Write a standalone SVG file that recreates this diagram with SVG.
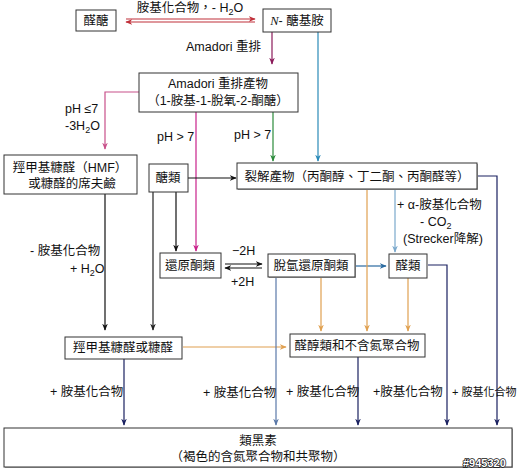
<svg xmlns="http://www.w3.org/2000/svg" width="520" height="470" viewBox="0 0 520 470">
<style>
text{font-family:"Liberation Sans","Noto Sans CJK TC",sans-serif;font-size:12.5px;fill:#111;}
.c{text-anchor:middle;}
.box{fill:#fff;stroke:#333;stroke-width:1;}
.sh{fill:#aaa;}
.ln{fill:none;stroke-width:1.2;}
</style>
<defs>
<marker id="ar" viewBox="0 0 10 10" refX="9" refY="5" markerWidth="7" markerHeight="7" orient="auto" markerUnits="userSpaceOnUse"><path d="M0,1 L10,5 L0,9 L3,5z" fill="context-stroke"/></marker>
</defs>
<rect width="520" height="470" fill="#fff"/>
<g id="connectors">
<path class="ln" d="M126,19 H255" stroke="#c0303a" marker-end="url(#ar)"/>
<path class="ln" d="M255,22 H126" stroke="#c0303a" marker-end="url(#ar)"/>
<path class="ln" d="M272,32 V64" stroke="#8b1a5a" marker-end="url(#ar)"/>
<path class="ln" d="M318,32 V161" stroke="#2a8ab8" marker-end="url(#ar)"/>
<path class="ln" d="M139,92 H105 V149" stroke="#c8508a" marker-end="url(#ar)"/>
<path class="ln" d="M196,112 V251" stroke="#c8208a" marker-end="url(#ar)"/>
<path class="ln" d="M273,112 V161" stroke="#2a8a3a" marker-end="url(#ar)"/>
<path class="ln" d="M188,178 H236" stroke="#111" marker-end="url(#ar)"/>
<path class="ln" d="M176,192 V251" stroke="#111" marker-end="url(#ar)"/>
<path class="ln" d="M153,192 V330" stroke="#222" marker-end="url(#ar)"/>
<path class="ln" d="M105,194 V330" stroke="#111" marker-end="url(#ar)"/>
<path class="ln" d="M225,264 H262" stroke="#111" marker-end="url(#ar)"/>
<path class="ln" d="M262,268 H225" stroke="#111" marker-end="url(#ar)"/>
<path class="ln" d="M356,266 H386" stroke="#2a6aa0" marker-end="url(#ar)"/>
<path class="ln" d="M395,189 V252" stroke="#7aa8cc" stroke-width="1.6" marker-end="url(#ar)"/>
<path class="ln" d="M367,189 V331" stroke="#e0a050" marker-end="url(#ar)"/>
<path class="ln" d="M321,277 V331" stroke="#e0a050" marker-end="url(#ar)"/>
<path class="ln" d="M408,278 V331" stroke="#e0a050" marker-end="url(#ar)"/>
<path class="ln" d="M183,347 H286" stroke="#e0a050" marker-end="url(#ar)"/>
<path class="ln" d="M124,359 V425" stroke="#1a2060" marker-end="url(#ar)"/>
<path class="ln" d="M276,277 V425" stroke="#5a78a8" marker-end="url(#ar)"/>
<path class="ln" d="M358,357 V425" stroke="#1a2060" marker-end="url(#ar)"/>
<path class="ln" d="M428,265 H447 V425" stroke="#1a2060" marker-end="url(#ar)"/>
<path class="ln" d="M477,176 H497 V425" stroke="#1a2060" marker-end="url(#ar)"/>
</g>
<g id="labels">
<text class="c" x="190" y="12">胺基化合物，- H<tspan font-size="9" dy="3">2</tspan><tspan dy="-3">O</tspan></text>
<text x="186" y="51">Amadori 重排</text>
<text x="65" y="113">pH ≤7</text>
<text x="65" y="130">-3H<tspan font-size="9" dy="3">2</tspan><tspan dy="-3">O</tspan></text>
<text x="157" y="141">pH &gt; 7</text>
<text x="234" y="139">pH &gt; 7</text>
<text x="30" y="255">- 胺基化合物</text>
<text x="70" y="273">+ H<tspan font-size="9" dy="3">2</tspan><tspan dy="-3">O</tspan></text>
<text x="232" y="255">−2H</text>
<text x="231" y="286">+2H</text>
<text x="397" y="209">+ α-胺基化合物</text>
<text x="420" y="226">- CO<tspan font-size="9" dy="3">2</tspan></text>
<text x="403" y="243">(Strecker降解)</text>
<text x="50" y="396">+ 胺基化合物</text>
<text x="203" y="397">+ 胺基化合物</text>
<text x="286" y="396">+ 胺基化合物</text>
<text x="373" y="396">+胺基化合物</text>
<text x="452" y="396" style="font-size:11px">+ 胺基化合物</text>
</g>
<g id="n-aldose">
<rect class="box" x="76" y="10" width="40" height="21"/>
<text class="c" x="96" y="25">醛醣</text>
</g>
<g id="n-glycosylamine">
<rect class="box" x="263" y="9" width="68" height="23"/>
<text class="c" x="297" y="25"><tspan font-family="Liberation Serif" font-style="italic">N</tspan>- 醣基胺</text>
</g>
<g id="n-amadori">
<rect class="box" x="139" y="73" width="159" height="39"/>
<text class="c" x="218" y="88">Amadori 重排產物</text>
<text class="c" x="218" y="105">（1-胺基-1-脫氧-2-酮醣）</text>
</g>
<g id="n-hmf-schiff">
<rect class="box" x="4" y="155" width="133" height="39"/>
<text class="c" x="70" y="172">羥甲基糠醛（HMF）</text>
<text class="c" x="72" y="188">或糠醛的席夫鹼</text>
</g>
<g id="n-sugars">
<rect class="box" x="149" y="164" width="39" height="28"/>
<text class="c" x="168" y="182">醣類</text>
</g>
<g id="n-fission">
<rect class="sh" x="238" y="164" width="240" height="26"/>
<rect class="box" x="237" y="163" width="240" height="26"/>
<text class="c" x="357" y="181">裂解產物（丙酮醇、丁二酮、丙酮醛等）</text>
</g>
<g id="n-reductones">
<rect class="box" x="160" y="253" width="61" height="25"/>
<text class="c" x="190" y="270">還原酮類</text>
</g>
<g id="n-dehydroreductones">
<rect class="sh" x="269" y="255" width="87" height="23"/>
<rect class="box" x="268" y="254" width="87" height="23"/>
<text class="c" x="311" y="270">脫氫還原酮類</text>
</g>
<g id="n-aldehydes">
<rect class="box" x="389" y="254" width="38" height="24"/>
<text class="c" x="408" y="270">醛類</text>
</g>
<g id="n-hmf">
<rect class="box" x="65" y="337" width="117" height="22"/>
<text class="c" x="123" y="352">羥甲基糠醛或糠醛</text>
</g>
<g id="n-aldols">
<rect class="box" x="290" y="334" width="135" height="23"/>
<text class="c" x="357" y="350">醛醇類和不含氮聚合物</text>
</g>
<g id="n-melanoidins">
<rect class="sh" x="5" y="429" width="508" height="39"/>
<rect class="box" x="4" y="428" width="508" height="39"/>
<text class="c" x="258" y="445">類黑素</text>
<text class="c" x="258" y="461">（褐色的含氮聚合物和共聚物）</text>
</g>
<text x="463" y="467" fill="#fff" stroke="#111" stroke-width="1.4" paint-order="stroke" style="font-size:11px;fill:#fff;font-weight:bold">#945320</text>
</svg>
